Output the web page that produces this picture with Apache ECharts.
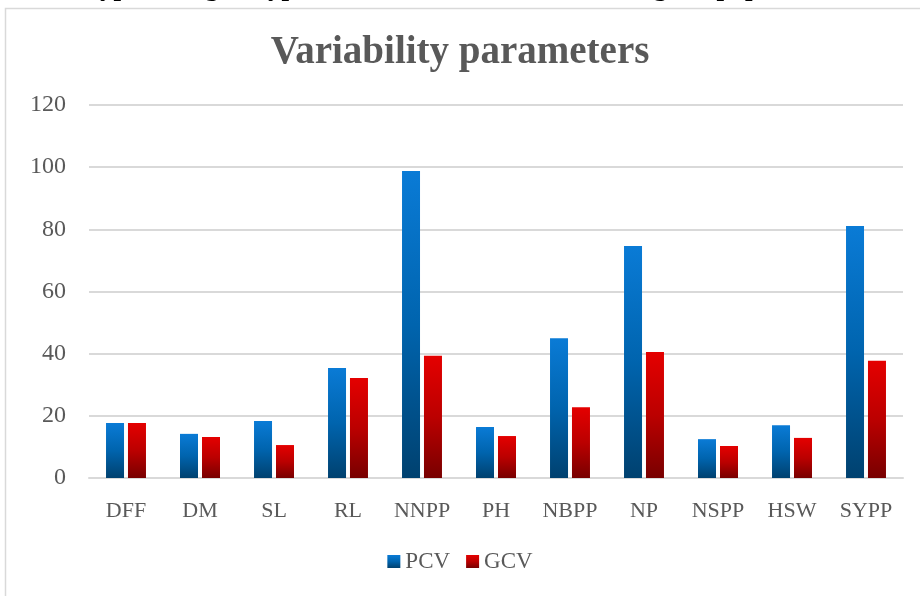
<!DOCTYPE html>
<html>
<head>
<meta charset="utf-8">
<script src="https://cdn.jsdelivr.net/npm/echarts@6/dist/echarts.min.js"></script>
<style>
html,body{margin:0;padding:0;background:#fff;}
#chart{width:920px;height:596px;}
</style>
</head>
<body>
<div id="chart"></div>
<script>
const categories = ['DFF','DM','SL','RL','NNPP','PH','NBPP','NP','NSPP','HSW','SYPP'];
const pcv = [17.7, 14.2, 18.3, 35.4, 98.8, 16.4, 45.0, 74.6, 12.5, 17.0, 81.1];
const gcv = [17.7, 13.2, 10.6, 32.2, 39.3, 13.5, 22.8, 40.5, 10.3, 12.9, 37.7];
const yTicks = [0, 20, 40, 60, 80, 100, 120];
const titleText = 'Variability parameters';
const captionText = 'Phenotypic and genotypic coefficient of variation among ten population';

const serif = '"Liberation Serif", "Times New Roman", serif';
const blueGrad = new echarts.graphic.LinearGradient(0, 0, 0, 1, [
  {offset: 0, color: '#0a7bd6'},
  {offset: 0.5, color: '#0064ae'},
  {offset: 1, color: '#00416f'}
]);
const redGrad = new echarts.graphic.LinearGradient(0, 0, 0, 1, [
  {offset: 0, color: '#e40000'},
  {offset: 0.5, color: '#bb0000'},
  {offset: 1, color: '#780000'}
]);

const chart = echarts.init(document.getElementById('chart'), null, {renderer: 'canvas'});
chart.setOption({
  backgroundColor: '#ffffff',
  animation: false,
  title: {
    text: titleText,
    left: 'center',
    top: 28,
    textStyle: {fontFamily: serif, fontWeight: 'bold', fontSize: 39, color: '#595959'}
  },
  graphic: [
    {type: 'rect', shape: {x: 5.5, y: 8.5, width: 1000, height: 1000},
     style: {fill: 'none', stroke: '#d9d9d9', lineWidth: 1.5}, silent: true},
    {type: 'text', x: 430, y: 1.5,
     style: {text: captionText, fontFamily: serif, fontWeight: 'bold', fontSize: 27,
             fill: '#000', align: 'center', verticalAlign: 'bottom'}}
  ],
  legend: {
    bottom: 18,
    left: 'center',
    itemWidth: 13,
    itemHeight: 13,
    itemGap: 16,
    icon: 'rect',
    textStyle: {fontFamily: serif, fontSize: 23, color: '#595959'},
    data: ['PCV', 'GCV']
  },
  grid: {left: 89, right: 17, top: 105, bottom: 118, containLabel: false},
  xAxis: {
    type: 'category',
    data: categories,
    axisLine: {show: true, lineStyle: {color: '#d9d9d9', width: 2}},
    axisTick: {show: false},
    axisLabel: {fontFamily: serif, fontSize: 22, color: '#595959', margin: 22}
  },
  yAxis: {
    type: 'value',
    min: yTicks[0],
    max: yTicks[yTicks.length - 1],
    interval: yTicks[1] - yTicks[0],
    axisLine: {show: false},
    axisTick: {show: false},
    splitLine: {lineStyle: {color: '#d9d9d9', width: 2}},
    axisLabel: {fontFamily: serif, fontSize: 24, color: '#595959', margin: 23}
  },
  series: [
    {name: 'PCV', type: 'bar', data: pcv, barWidth: 18, barGap: '22%',
     itemStyle: {color: blueGrad}},
    {name: 'GCV', type: 'bar', data: gcv, barWidth: 18,
     itemStyle: {color: redGrad}}
  ]
});
</script>
</body>
</html>
